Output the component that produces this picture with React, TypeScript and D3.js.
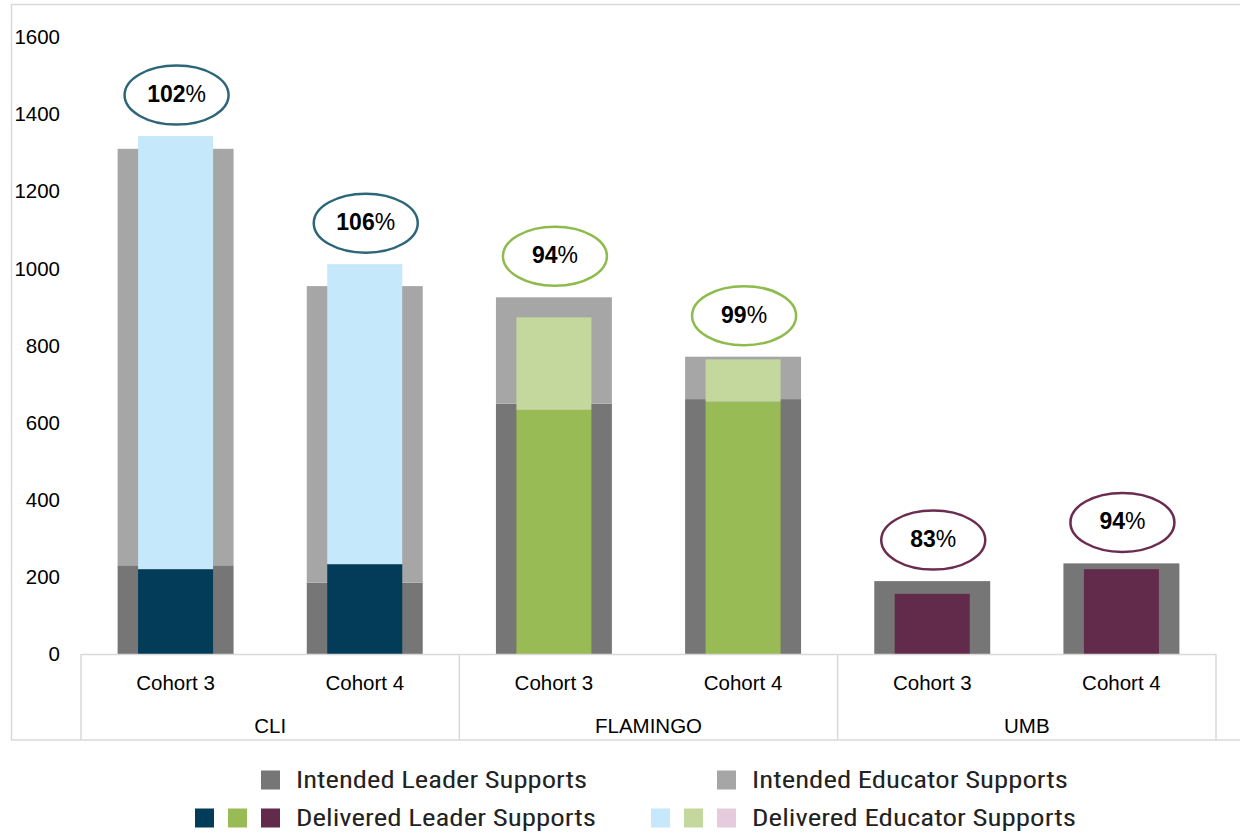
import React from "react";
import * as d3 from "d3";

const cohorts = ["Cohort 3", "Cohort 4", "Cohort 3", "Cohort 4", "Cohort 3", "Cohort 4"];
const programs = ["CLI", "CLI", "FLAMINGO", "FLAMINGO", "UMB", "UMB"];
const groupNames = ["CLI", "FLAMINGO", "UMB"];
const intendedLeader = [230, 185, 649, 661, 189, 235];
const intendedEducator = [1080, 769, 276, 110, 0, 0];
const deliveredLeader = [220, 233, 633, 654, 156, 220];
const deliveredEducator = [1123, 778, 240, 110, 0, 0];
const pctNumbers = ["102", "106", "94", "99", "83", "94"];
const yTicks = [0, 200, 400, 600, 800, 1000, 1200, 1400, 1600];

const programColors: Record<string, { leader: string; educator: string; ring: string }> = {
  CLI: { leader: "#023C59", educator: "#C5E8FB", ring: "#2C6678" },
  FLAMINGO: { leader: "#98BB55", educator: "#C4D89E", ring: "#8DBB4C" },
  UMB: { leader: "#622A4B", educator: "#E6CADD", ring: "#6A2C4F" },
};
const intendedLeaderColor = "#767676";
const intendedEducatorColor = "#A6A6A6";
const axisLine = "#D9D9D9";
const font = "'Liberation Sans', Arial, sans-serif";
const legendFont = "'Liberation Sans Narrow', 'Roboto Condensed', 'Liberation Sans', Arial, sans-serif";

export default function App() {
  const W = 1240;
  const H = 835;
  const left = 81;
  const right = 1216;
  const top = 37;
  const base = 654;
  const axisBottom = 740;

  const idx = d3.range(cohorts.length);
  const x = d3
    .scaleBand<number>()
    .domain(idx)
    .range([left, right])
    .paddingInner(0.387)
    .paddingOuter(0.1935);
  const y = d3.scaleLinear().domain([0, 1600]).range([base, top]);
  const innerW = 75;
  const step = x.step();

  const groupExtents = groupNames.map((g) => {
    const members = idx.filter((i) => programs[i] === g);
    const x0 = left + step * members[0];
    const x1 = left + step * (members[members.length - 1] + 1);
    return { g, x0, x1 };
  });

  const legendRows = [
    {
      y: 780,
      items: [
        { colors: [intendedLeaderColor], label: "Intended Leader Supports", textX: 296, len: 291 },
        { colors: [intendedEducatorColor], label: "Intended Educator Supports", textX: 752, len: 316 },
      ],
    },
    {
      y: 818,
      items: [
        { colors: groupNames.map((g) => programColors[g].leader), label: "Delivered Leader Supports", textX: 296, len: 300 },
        { colors: groupNames.map((g) => programColors[g].educator), label: "Delivered Educator Supports", textX: 752, len: 324 },
      ],
    },
  ];

  return (
    <svg
      width={W}
      height={H}
      style={{ position: "absolute", left: 0, top: 0, background: "#fff" }}
      fontFamily={font}
    >
      <rect x={11.5} y={4.5} width={W} height={axisBottom - 4.5} fill="#fff" stroke={axisLine} strokeWidth={1.5} />

      {/* y tick labels */}
      {yTicks.map((t) => (
        <text key={t} x={60} y={y(t)} dy="0.35em" textAnchor="end" fontSize={20.5} fill="#000">
          {t}
        </text>
      ))}

      {/* bars */}
      {idx.map((i) => {
        const bx = x(i)!;
        const bw = x.bandwidth();
        const cx = bx + bw / 2;
        const c = programColors[programs[i]];
        const il = intendedLeader[i];
        const ie = il + intendedEducator[i];
        const dl = deliveredLeader[i];
        const de = dl + deliveredEducator[i];
        return (
          <g key={i}>
            <rect x={bx} y={y(il)} width={bw} height={y(0) - y(il)} fill={intendedLeaderColor} />
            {intendedEducator[i] > 0 && (
              <rect x={bx} y={y(ie)} width={bw} height={y(il) - y(ie)} fill={intendedEducatorColor} />
            )}
            <rect x={cx - innerW / 2} y={y(dl)} width={innerW} height={y(0) - y(dl)} fill={c.leader} />
            {deliveredEducator[i] > 0 && (
              <rect x={cx - innerW / 2} y={y(de)} width={innerW} height={y(dl) - y(de)} fill={c.educator} />
            )}
          </g>
        );
      })}

      {/* percentage bubbles */}
      {idx.map((i) => {
        const cx = x(i)! + x.bandwidth() / 2 + 1;
        const ie = intendedLeader[i] + intendedEducator[i];
        const de = deliveredLeader[i] + deliveredEducator[i];
        const cy = y(Math.max(ie, de)) - 41;
        const c = programColors[programs[i]];
        return (
          <g key={"p" + i}>
            <ellipse cx={cx} cy={cy} rx={52} ry={29.5} fill="#fff" stroke={c.ring} strokeWidth={2.5} />
            <text x={cx} y={cy - 1} dy="0.35em" textAnchor="middle" fontSize={23} fill="#000">
              <tspan fontWeight={700}>{pctNumbers[i]}</tspan>
              <tspan>%</tspan>
            </text>
          </g>
        );
      })}

      {/* category axis box */}
      <line x1={left} x2={right} y1={base + 0.5} y2={base + 0.5} stroke={axisLine} strokeWidth={1.5} />
      {[left, ...groupExtents.map((g) => g.x1)].map((gx, k) => (
        <line key={"v" + k} x1={gx} x2={gx} y1={base} y2={axisBottom} stroke={axisLine} strokeWidth={1.5} />
      ))}
      {idx.map((i) => (
        <text key={"c" + i} x={x(i)! + x.bandwidth() / 2} y={683} dy="0.35em" textAnchor="middle" fontSize={20.5} fill="#000">
          {cohorts[i]}
        </text>
      ))}
      {groupExtents.map((g) => (
        <text key={g.g} x={(g.x0 + g.x1) / 2} y={726} dy="0.35em" textAnchor="middle" fontSize={20.5} fill="#000">
          {g.g}
        </text>
      ))}

      {/* legend */}
      {legendRows.map((row, r) =>
        row.items.map((it, k) => (
          <g key={"l" + r + k}>
            {it.colors.map((col, j) => {
              const n = it.colors.length;
              const sx = it.textX - 16 - 19 - (n - 1 - j) * 33;
              return <rect key={j} x={sx} y={row.y - 9.5} width={19} height={19} fill={col} />;
            })}
            <text
              x={it.textX}
              y={row.y}
              dy="0.35em"
              fontSize={24}
              fontFamily={legendFont}
              fill="#222"
              textLength={it.len}
              lengthAdjust="spacingAndGlyphs"
            >
              {it.label}
            </text>
          </g>
        ))
      )}
    </svg>
  );
}
